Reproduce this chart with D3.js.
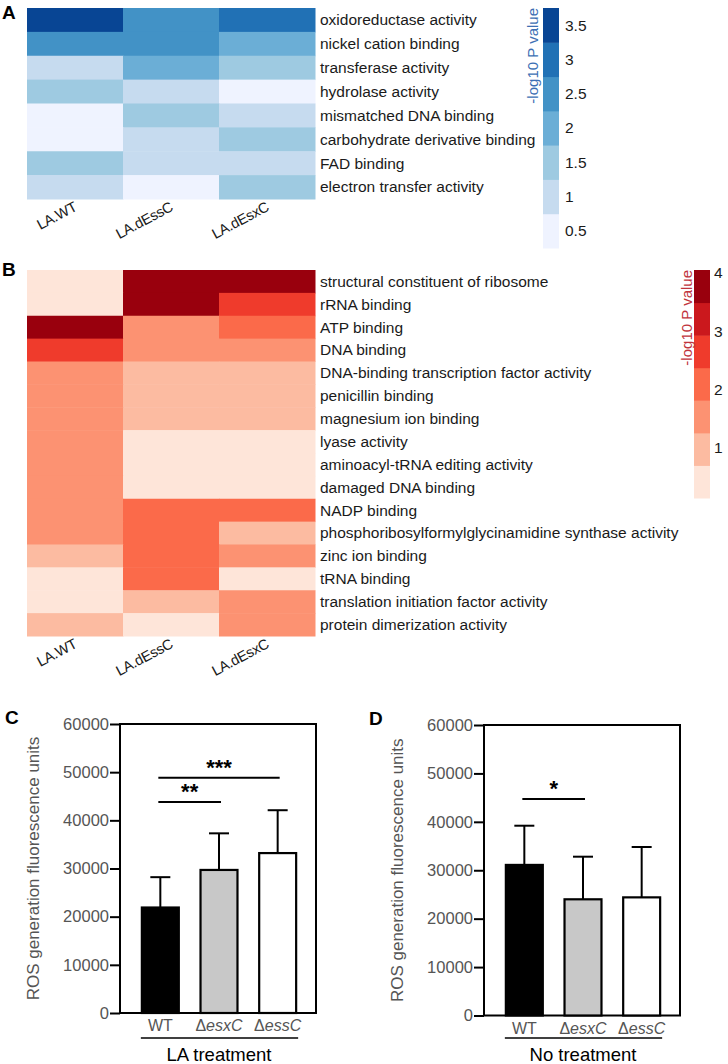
<!DOCTYPE html>
<html><head><meta charset="utf-8">
<script src="https://cdn.jsdelivr.net/npm/d3@7"></script>
<style>
html,body{margin:0;padding:0;background:#fff;}
svg{display:block;font-family:"Liberation Sans",Arial,sans-serif;}
</style></head>
<body><svg id="fig" width="728" height="1064"></svg>
<script>
// ---------- DATA ----------
const heatGroups = ["LA.WT", "LA.dEssC", "LA.dEsxC"];

const termsA = ["oxidoreductase activity","nickel cation binding","transferase activity","hydrolase activity",
  "mismatched DNA binding","carbohydrate derivative binding","FAD binding","electron transfer activity"];
const valsA_WT    = [3.5, 2.5, 1.0, 1.5, 0.5, 0.5, 1.5, 1.0];
const valsA_dEssC = [2.5, 2.5, 2.0, 1.0, 1.5, 1.0, 1.0, 0.5];
const valsA_dEsxC = [3.0, 2.0, 1.5, 0.5, 1.0, 1.5, 1.0, 1.5];
const legendTicksA = [0.5, 1, 1.5, 2, 2.5, 3, 3.5];
const bluePalette = ["#eff3ff","#c6dbef","#9ecae1","#6baed6","#4292c6","#2171b5","#084594"];

const termsB = ["structural constituent of ribosome","rRNA binding","ATP binding","DNA binding",
  "DNA-binding transcription factor activity","penicillin binding","magnesium ion binding","lyase activity",
  "aminoacyl-tRNA editing activity","damaged DNA binding","NADP binding",
  "phosphoribosylformylglycinamidine synthase activity","zinc ion binding","tRNA binding",
  "translation initiation factor activity","protein dimerization activity"];
const valsB_WT    = [0.4, 0.4, 3.8, 2.6, 1.5, 1.5, 1.5, 1.5, 1.5, 1.5, 1.5, 1.5, 1.0, 0.4, 0.4, 1.0];
const valsB_dEssC = [3.8, 3.8, 1.5, 1.5, 1.0, 1.0, 1.0, 0.4, 0.4, 0.4, 2.1, 2.1, 2.1, 2.1, 1.0, 0.4];
const valsB_dEsxC = [3.8, 2.6, 2.1, 1.5, 1.0, 1.0, 1.0, 0.4, 0.4, 0.4, 2.1, 1.0, 1.5, 0.4, 1.5, 1.5];
const legendTicksB = [1, 2, 3, 4];
const legendDomainB = [0.14, 4.05];
const redPalette = ["#fee5d9","#fcbba1","#fc9272","#fb6a4a","#ef3b2c","#cb181d","#99000d"];

const rosGroups = ["WT", "esxC", "essC"];
const rosLA_mean = [21900, 29700, 33200];
const rosLA_err  = [6300, 7600, 8900];
const rosNo_mean = [31100, 24000, 24400];
const rosNo_err  = [8100, 8800, 10400];
const rosFills = ["#000000", "#c8c8c8", "#ffffff"];
const rosTicks = [0, 10000, 20000, 30000, 40000, 50000, 60000];
const sigLA = [{from:0, to:1, y:43800, label:"**"}, {from:0, to:2, y:48850, label:"***"}];
const sigNo = [{from:0, to:1, y:44700, label:"*"}];

// ---------- DRAW ----------
const svg = d3.select("#fig");
const FONT = '"Liberation Sans",Arial,sans-serif';
const TERM_FS = 15.5;

function panelLabel(t, x, y){
  svg.append("text").attr("x", x).attr("y", y).text(t)
    .attr("font-size", 19).attr("font-weight", "bold").attr("fill", "#000");
}

function heatmap(opts){
  const {terms, cols, top, bottom, colorScale} = opts;
  const x = d3.scaleBand().domain(heatGroups).range([27, 315]);
  const y = d3.scaleBand().domain(terms).range([top, bottom]);
  const g = svg.append("g");
  const cells = [];
  terms.forEach((t, i) => heatGroups.forEach((grp, j) => cells.push({t, grp, v: cols[j][i]})));
  g.selectAll("rect.cell").data(cells).join("rect")
    .attr("x", d => x(d.grp)).attr("y", d => y(d.t))
    .attr("width", x.bandwidth() + 0.5).attr("height", y.bandwidth() + 0.5)
    .attr("fill", d => colorScale(d.v));
  g.selectAll("text.term").data(terms).join("text")
    .attr("x", 320).attr("y", d => y(d) + y.bandwidth()/2)
    .attr("dy", "0.35em").attr("font-size", TERM_FS).attr("fill", "#1a1a1a").text(d => d);
  g.selectAll("text.col").data(heatGroups).join("text")
    .attr("transform", d => `translate(${x(d) + x.bandwidth()/2 + 3},${bottom + 11}) rotate(-28)`)
    .attr("text-anchor", "end").attr("font-size", 14.5).attr("letter-spacing", -0.3)
    .attr("fill", "#1a1a1a").text(d => d);
}

// Panel A
panelLabel("A", 2, 19);
const blueScale = d3.scaleQuantize().domain([0.25, 3.75]).range(bluePalette);
heatmap({terms: termsA, cols: [valsA_WT, valsA_dEssC, valsA_dEsxC], top: 8, bottom: 199, colorScale: blueScale});
{
  const ly = d3.scaleLinear().domain([0.25, 3.75]).range([248, 8]);
  const g = svg.append("g");
  g.selectAll("rect").data(legendTicksA).join("rect")
    .attr("x", 543).attr("width", 16)
    .attr("y", d => ly(d + 0.25)).attr("height", d => ly(d - 0.25) - ly(d + 0.25) + 0.5)
    .attr("fill", d => blueScale(d));
  g.selectAll("text").data(legendTicksA).join("text")
    .attr("x", 565).attr("y", d => ly(d)).attr("dy", "0.35em")
    .attr("font-size", 15.5).attr("fill", "#1a1a1a").text(d => d);
  svg.append("text").attr("transform", "translate(538,8) rotate(-90)")
    .attr("text-anchor", "end").attr("font-size", 15).attr("fill", "#3c6fb4")
    .text("-log10 P value");
}

// Panel B
panelLabel("B", 2, 276);
const redScale = d3.scaleQuantize().domain(legendDomainB).range(redPalette);
heatmap({terms: termsB, cols: [valsB_WT, valsB_dEssC, valsB_dEsxC], top: 270, bottom: 636, colorScale: redScale});
{
  const ly = d3.scaleLinear().domain(legendDomainB).range([498, 270]);
  const g = svg.append("g");
  const step = (legendDomainB[1] - legendDomainB[0]) / redPalette.length;
  const bins = redPalette.map((c, i) => ({c, lo: legendDomainB[0] + i*step, hi: legendDomainB[0] + (i+1)*step}));
  g.selectAll("rect").data(bins).join("rect")
    .attr("x", 694).attr("width", 16)
    .attr("y", d => ly(d.hi)).attr("height", d => ly(d.lo) - ly(d.hi) + 0.5)
    .attr("fill", d => d.c);
  g.selectAll("text").data(legendTicksB).join("text")
    .attr("x", 714).attr("y", d => ly(d)).attr("dy", "0.35em")
    .attr("font-size", 15.5).attr("fill", "#1a1a1a").text(d => d);
  svg.append("text").attr("transform", "translate(692,270) rotate(-90)")
    .attr("text-anchor", "end").attr("font-size", 15).attr("fill", "#c0343c")
    .text("-log10 P value");
}

// Bar panels
function barPanel(opts){
  const {ox, top, bottom, means, errs, sigs, label, caption} = opts;
  const y = d3.scaleLinear().domain([0, 60000]).range([bottom, top]);
  const x = d3.scaleBand().domain(rosGroups).range([ox + 131, ox + 307]).paddingInner(0.37).paddingOuter(0.185);
  const axL = ox + 120, axR = ox + 316;
  const g = svg.append("g");
  panelLabel(label, ox + 5, top + 0);
  // frame
  g.append("rect").attr("x", axL).attr("y", top).attr("width", axR - axL).attr("height", bottom - top)
    .attr("fill", "none").attr("stroke", "#000").attr("stroke-width", 2);
  // y axis
  const ax = g.append("g").attr("transform", `translate(${axL},0)`)
    .call(d3.axisLeft(y).tickValues(rosTicks).tickSize(10).tickSizeOuter(0).tickFormat(d3.format("d")));
  ax.select(".domain").remove();
  ax.selectAll(".tick line").attr("stroke", "#000").attr("stroke-width", 2);
  ax.selectAll(".tick text").attr("font-size", 16.5).attr("fill", "#555").attr("font-family", FONT).attr("x", -11);
  g.append("text").attr("transform", `translate(${ox + 39},${(top + bottom)/2}) rotate(-90)`)
    .attr("text-anchor", "middle").attr("font-size", 17).attr("fill", "#555")
    .text("ROS generation fluorescence units");
  const data = rosGroups.map((k, i) => ({k, m: means[i], e: errs[i], f: rosFills[i]}));
  // error bars
  g.selectAll("line.err").data(data).join("line")
    .attr("x1", d => x(d.k) + x.bandwidth()/2).attr("x2", d => x(d.k) + x.bandwidth()/2)
    .attr("y1", d => y(d.m)).attr("y2", d => y(d.m + d.e)).attr("stroke", "#000").attr("stroke-width", 2);
  g.selectAll("line.cap").data(data).join("line")
    .attr("x1", d => x(d.k) + x.bandwidth()/2 - 10).attr("x2", d => x(d.k) + x.bandwidth()/2 + 10)
    .attr("y1", d => y(d.m + d.e)).attr("y2", d => y(d.m + d.e)).attr("stroke", "#000").attr("stroke-width", 2);
  g.selectAll("rect.bar").data(data).join("rect")
    .attr("x", d => x(d.k)).attr("width", x.bandwidth())
    .attr("y", d => y(d.m)).attr("height", d => y(0) - y(d.m))
    .attr("fill", d => d.f).attr("stroke", "#000").attr("stroke-width", 2.2);
  // x labels
  const xl = g.selectAll("text.xl").data(data).join("text")
    .attr("x", d => x(d.k) + x.bandwidth()/2).attr("y", bottom + 18)
    .attr("text-anchor", "middle").attr("font-size", 16).attr("fill", "#555");
  xl.each(function(d){
    const t = d3.select(this);
    if (d.k === "WT") t.text("WT");
    else { t.append("tspan").text("\u0394"); t.append("tspan").attr("font-style", "italic").text(d.k); }
  });
  g.append("line").attr("x1", x("WT") - 1).attr("x2", x("essC") + x.bandwidth() + 2)
    .attr("y1", 1038).attr("y2", 1038).attr("stroke", "#000").attr("stroke-width", 1.5);
  g.append("text").attr("x", (x("WT") + x("essC") + x.bandwidth())/2).attr("y", 1061)
    .attr("text-anchor", "middle").attr("font-size", 18.5).attr("fill", "#000").text(caption);
  // significance
  sigs.forEach(s => {
    const x1 = x(rosGroups[s.from]) + x.bandwidth()/2 - 2;
    const x2 = x(rosGroups[s.to]) + x.bandwidth()/2 + 2;
    g.append("line").attr("x1", x1).attr("x2", x2).attr("y1", y(s.y)).attr("y2", y(s.y))
      .attr("stroke", "#000").attr("stroke-width", 2);
    g.append("text").attr("x", (x1 + x2)/2).attr("y", y(s.y) - 3)
      .attr("text-anchor", "middle").attr("font-size", 22).attr("font-weight", "bold").text(s.label);
  });
}

barPanel({ox: 0, top: 724, bottom: 1013, means: rosLA_mean, errs: rosLA_err, sigs: sigLA, label: "C", caption: "LA treatment"});
barPanel({ox: 364, top: 725, bottom: 1015.5, means: rosNo_mean, errs: rosNo_err, sigs: sigNo, label: "D", caption: "No treatment"});
</script></body></html>
